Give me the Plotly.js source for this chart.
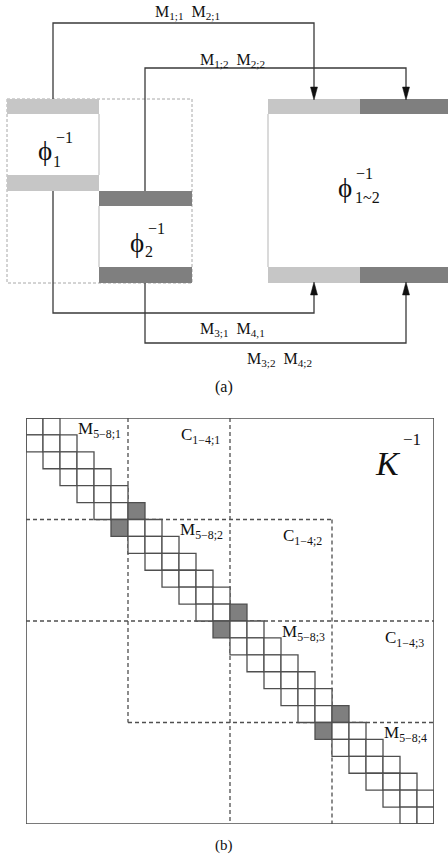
<!DOCTYPE html>
<html>
<head>
<meta charset="utf-8">
<script src="https://cdn.plot.ly/plotly-3.0.1.min.js"></script>
<style>html,body{margin:0;padding:0;background:#fff;}#chart{width:448px;height:860px;}</style>
</head>
<body>
<div id="chart"></div>
<script>
// ---------- data ----------
// (a) operator labels
const phiBases = ['ϕ', 'ϕ', 'ϕ'];
const phiSubs = ['1', '2', '1~2'];
const phiSup = '−1';
const connectorLabels = [
  'M<sub>1;1</sub>  M<sub>2;1</sub>',
  'M<sub>1;2</sub>  M<sub>2;2</sub>',
  'M<sub>3;1</sub>  M<sub>4,1</sub>',
  'M<sub>3;2</sub>  M<sub>4;2</sub>'
];
const panelLabels = ['(a)', '(b)'];
// (b) banded matrix
const matrixSize = 24;          // cells per side
const blockCount = 4;           // diagonal blocks
const bandOffsets = [-1, 0, 1]; // tridiagonal band
const shadedCols = [6, 5, 12, 11, 18, 17];
const shadedRows = [5, 6, 11, 12, 17, 18];
// dashed partitions (in block units): [position, from, to]
const dashedVertical = [[1, 0, 3], [2, 0, 4], [3, 1, 4]];
const dashedHorizontal = [[1, 0, 3], [2, 0, 4], [3, 1, 4]];
const mLabels = ['M<sub>5−8;1</sub>', 'M<sub>5−8;2</sub>', 'M<sub>5−8;3</sub>', 'M<sub>5−8;4</sub>'];
const cLabels = ['C<sub>1−4;1</sub>', 'C<sub>1−4;2</sub>', 'C<sub>1−4;3</sub>'];
const matrixName = 'K';

// ---------- styles ----------
const LIGHT = '#c6c6c6', DARK = '#7f7f7f', LINE = '#3a3a3a', GRID = '#4f4f4f', FAINT = '#b5b5b5';
const SERIF = '"Liberation Serif", "Times New Roman", serif';

const shapes = [];
const ann = [];

// ---------- (a) ----------
function rect(x0, x1, y0, y1, fill, line) {
  shapes.push({type: 'rect', xref: 'x', yref: 'y', x0, x1, y0, y1,
    fillcolor: fill, line: line || {width: 0}});
}
function seg(x0, y0, x1, y1, color, width) {
  shapes.push({type: 'line', xref: 'x', yref: 'y', x0, y0, x1, y1, line: {color, width}});
}
function path(d, color, width, fill) {
  shapes.push({type: 'path', xref: 'x', yref: 'y', path: d,
    line: {color, width: width || 0}, fillcolor: fill || 'rgba(0,0,0,0)'});
}
// dashed outline around both small operators
rect(7, 192, 99, 283, 'rgba(0,0,0,0)', {color: '#a8a8a8', width: 1, dash: '3px,2px'});
// phi1
rect(7, 99, 99, 114, LIGHT);
rect(7, 99, 175, 191, LIGHT);
seg(99, 114, 99, 175, FAINT, 1);
// phi2
rect(99, 192, 191, 206, DARK);
rect(99, 192, 267, 283, DARK);
seg(99, 206, 99, 267, FAINT, 1);
// phi 1~2
rect(268, 360, 99, 114, LIGHT);
rect(360, 450, 99, 114, DARK);
rect(268, 360, 267, 283, LIGHT);
rect(360, 450, 267, 283, DARK);
seg(268, 114, 268, 267, FAINT, 1);
// connectors
path('M53,99 V23 H314 V92', LINE, 1.3);
path('M145,191 V68 H406 V92', LINE, 1.3);
path('M53,191 V313 H314 V290', LINE, 1.3);
path('M145,283 V343 H406 V290', LINE, 1.3);
// arrow heads
[314, 406].forEach(x => {
  path(`M${x - 3.5},87 L${x + 3.5},87 L${x},100 Z`, '#111', 0.5, '#111');
  path(`M${x - 3.5},295 L${x + 3.5},295 L${x},282 Z`, '#111', 0.5, '#111');
});
// phi labels: [base x,y, sub x,y, sup x,y]
const phiPos = [[45, 151, 57, 161, 64, 137], [137, 243, 149, 251, 156, 228], [345, 188, 367, 197, 364, 173]];
phiPos.forEach((p, k) => {
  ann.push({xref: 'x', yref: 'y', x: p[0], y: p[1], text: phiBases[k], showarrow: false,
    font: {family: SERIF, size: 27, color: '#111'}});
  ann.push({xref: 'x', yref: 'y', x: p[2], y: p[3], text: phiSubs[k], showarrow: false,
    xanchor: k === 2 ? 'center' : 'center', font: {family: SERIF, size: 16, color: '#111'}});
  ann.push({xref: 'x', yref: 'y', x: p[4], y: p[5], text: phiSup, showarrow: false,
    font: {family: SERIF, size: 16, color: '#111'}});
});
const connPos = [[187, 12], [232, 60], [232, 329], [279, 359]];
connectorLabels.forEach((t, k) => {
  ann.push({xref: 'x', yref: 'y', x: connPos[k][0], y: connPos[k][1], text: t, showarrow: false,
    font: {family: SERIF, size: 16, color: '#111'}});
});
ann.push({xref: 'x', yref: 'y', x: 224, y: 387, text: panelLabels[0], showarrow: false,
  font: {family: SERIF, size: 16, color: '#111'}});
ann.push({xref: 'x', yref: 'y', x: 224, y: 845, text: panelLabels[1], showarrow: false,
  font: {family: SERIF, size: 15, color: '#111'}});

// ---------- (b) ----------
const bs = matrixSize / blockCount;
const dashStyle = {color: GRID, width: 1.3, dash: '4px,3px'};
dashedVertical.forEach(([p, a, b]) => shapes.push({type: 'line', xref: 'x2', yref: 'y2',
  x0: p * bs, x1: p * bs, y0: a * bs, y1: b * bs, line: dashStyle}));
dashedHorizontal.forEach(([p, a, b]) => shapes.push({type: 'line', xref: 'x2', yref: 'y2',
  y0: p * bs, y1: p * bs, x0: a * bs, x1: b * bs, line: dashStyle}));
for (let r = 0; r < matrixSize; r++) {
  bandOffsets.forEach(o => {
    const c = r + o;
    if (c < 0 || c >= matrixSize) return;
    let shaded = false;
    for (let s = 0; s < shadedCols.length; s++) if (shadedCols[s] === c && shadedRows[s] === r) shaded = true;
    shapes.push({type: 'rect', xref: 'x2', yref: 'y2', x0: c, x1: c + 1, y0: r, y1: r + 1,
      fillcolor: shaded ? DARK : '#ffffff', line: {color: GRID, width: 1.3}});
  });
}
shapes.push({type: 'rect', xref: 'x2', yref: 'y2', x0: 0, x1: matrixSize, y0: 0, y1: matrixSize,
  fillcolor: 'rgba(0,0,0,0)', line: {color: GRID, width: 1.6}});
mLabels.forEach((t, k) => ann.push({xref: 'x2', yref: 'y2', x: 2.95 + k * bs, y: 0.7 + k * bs, text: t,
  showarrow: false, xanchor: 'left', font: {family: SERIF, size: 17, color: '#111'}}));
cLabels.forEach((t, k) => ann.push({xref: 'x2', yref: 'y2', x: 9 + k * bs, y: 1.05 + k * bs, text: t,
  showarrow: false, xanchor: 'left', font: {family: SERIF, size: 17, color: '#111'}}));
ann.push({xref: 'x2', yref: 'y2', x: 21.3, y: 2.7, text: '<i>' + matrixName + '</i>', showarrow: false,
  font: {family: SERIF, size: 34, color: '#111'}});
ann.push({xref: 'x2', yref: 'y2', x: 22.7, y: 1.3, text: '−1', showarrow: false,
  font: {family: SERIF, size: 17, color: '#111'}});

const W = 448, H = 860;
const layout = {
  width: W, height: H, margin: {l: 0, r: 0, t: 0, b: 0},
  paper_bgcolor: '#fff', plot_bgcolor: 'rgba(0,0,0,0)', showlegend: false,
  xaxis: {domain: [0, 1], range: [0, W], visible: false, fixedrange: true},
  yaxis: {domain: [0, 1], range: [H, 0], visible: false, fixedrange: true},
  xaxis2: {domain: [26 / W, 434 / W], range: [0, matrixSize], visible: false, anchor: 'y2', fixedrange: true},
  yaxis2: {domain: [1 - 824 / H, 1 - 418 / H], range: [matrixSize, 0], visible: false, anchor: 'x2', fixedrange: true},
  shapes, annotations: ann
};
const data = [
  {type: 'scatter', x: [], y: [], xaxis: 'x', yaxis: 'y', hoverinfo: 'skip'},
  {type: 'scatter', x: [], y: [], xaxis: 'x2', yaxis: 'y2', hoverinfo: 'skip'}
];
Plotly.newPlot('chart', data, layout, {staticPlot: true, displayModeBar: false});
</script>
</body>
</html>
